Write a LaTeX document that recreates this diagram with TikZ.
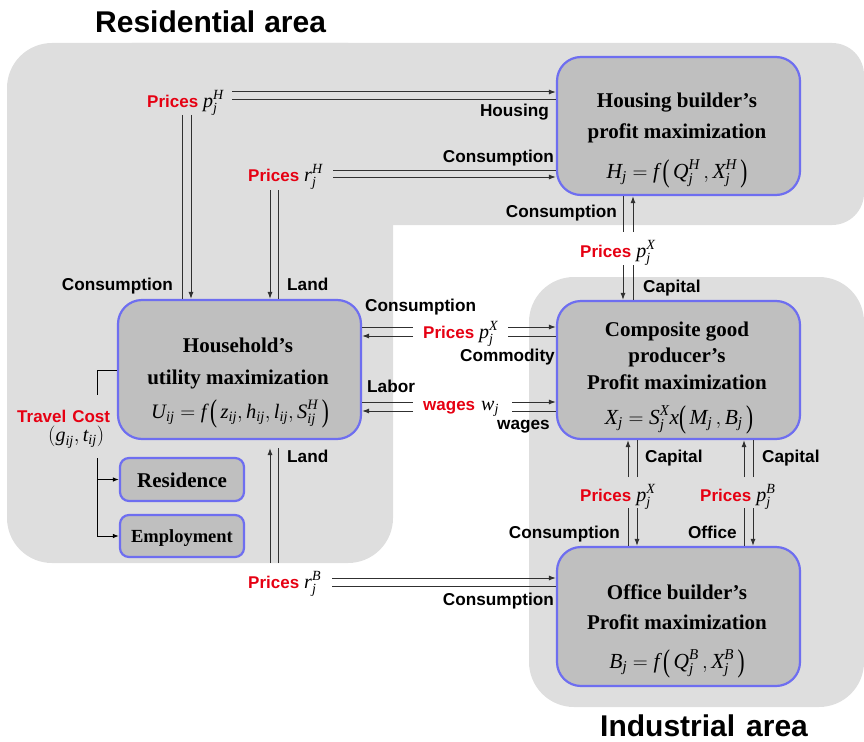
\documentclass[tikz,border=0pt]{standalone}
\usepackage{fontspec}
\usepackage{amsmath}
\usepackage{graphicx}
\setmainfont{Liberation Serif}
\setsansfont{Liberation Sans}
\usetikzlibrary{arrows.meta,calc}
\definecolor{regiongray}{HTML}{DEDEDE}
\definecolor{boxgray}{HTML}{BFBFBF}
\definecolor{boxblue}{HTML}{6E6EF0}
\definecolor{pricered}{HTML}{E60012}
\definecolor{linecol}{HTML}{303030}
\newcommand\myit[1]{\textit{#1}}
\newcommand\price[1]{{\sffamily\bfseries\fontsize{17}{17}\selectfont\color{pricered}#1}}
\newcommand\lpar{\mbox{\raisebox{-3.5pt}{\scalebox{1}[1.5]{\fontsize{21}{21}\selectfont(}}}\,}
\newcommand\rpar{\,\mbox{\raisebox{-3.5pt}{\scalebox{1}[1.5]{\fontsize{21}{21}\selectfont)}}}}
\tikzset{
  box/.style={draw=boxblue, line width=2.2pt, fill=boxgray, rounded corners=24pt, inner sep=0pt},
  smallbox/.style={draw=boxblue, line width=2.2pt, fill=boxgray, rounded corners=9pt, inner sep=0pt},
  btxt/.style={font=\fontsize{21}{21}\selectfont\bfseries, inner sep=0pt, anchor=base},
  ftxt/.style={font=\fontsize{21.5}{21.5}\selectfont, inner sep=0pt, anchor=base},
  lbl/.style={font=\sffamily\bfseries\fontsize{17.2}{17.2}\selectfont, inner sep=0pt},
  plbl/.style={font=\fontsize{20}{20}\selectfont, inner sep=0pt, anchor=base west},
  conn/.style={draw=linecol, line width=1pt},
  arr/.style={conn, -{Latex[length=7pt,width=5pt]}},
  tarr/.style={draw=black, line width=0.9pt, -{Latex[length=6pt,width=4.5pt]}},
  titletxt/.style={font=\sffamily\bfseries\fontsize{30}{30}\selectfont, inner sep=0pt, anchor=base west},
}
\begin{document}
\begin{tikzpicture}[x=1pt,y=-1pt]
\useasboundingbox (0,0) rectangle (864,741);
% regions
\fill[regiongray, rounded corners=45pt] (7,43) rectangle (393,563);
\fill[regiongray, rounded corners=32pt] (100,43) rectangle (864,225);
\fill[regiongray, rounded corners=45pt] (529,277) rectangle (864,707);
% titles
\node[titletxt] (rtitle) at (95,33) {Residential\hspace{9pt}area};
\node[titletxt] (ititle) at (600,736) {Industrial\hspace{11pt}area};
% boxes
\node[box, minimum width=243pt, minimum height=138pt] (hb) at (678.5,126) {};
\node[box, minimum width=243pt, minimum height=139pt] (hh) at (239.5,369.5) {};
\node[box, minimum width=243pt, minimum height=138pt] (cg) at (678.5,370) {};
\node[box, minimum width=243pt, minimum height=139pt] (ofb) at (678.5,616.5) {};
\node[smallbox, minimum width=124pt, minimum height=43pt] (res) at (182,479.5) {};
\node[smallbox, minimum width=124pt, minimum height=42pt] (emp) at (182,536) {};
% box texts
\node[btxt] (hbt1) at (677,107) {Housing builder’s};
\node[btxt] (hbt2) at (677,139) {profit maximization};
\node[ftxt] (hbt3) at (677,178) {$\myit{H}_{\myit{j}} = \myit{f}\,\lpar\myit{Q}_{\myit{j}}^{\myit{H}}\,, \myit{X}_{\myit{j}}^{\myit{H}}\rpar$};
\node[btxt] (hht1) at (238,352) {Household’s};
\node[btxt] (hht2) at (238,384) {utility maximization};
\node[ftxt, font=\fontsize{20.5}{20.5}\selectfont] (hht3) at (240,418) {$\myit{U}_{\myit{ij}} = \myit{f}\,\lpar\myit{z}_{\myit{ij}}, \myit{h}_{\myit{ij}}, \myit{l}_{\myit{ij}}, \myit{S}_{\myit{ij}}^{\myit{H}}\rpar$};
\node[btxt] (cgt1) at (677,336) {Composite good};
\node[btxt] (cgt2) at (677,362) {producer’s};
\node[btxt] (cgt3) at (677,389) {Profit maximization};
\node[ftxt] (cgt4) at (679,424) {$\myit{X}_{\myit{j}} = \myit{S}_{\myit{j}}^{\myit{X}}\myit{x}\lpar\myit{M}_{\myit{j}}\,, \myit{B}_{\myit{j}}\rpar$};
\node[btxt] (oft1) at (677,599) {Office builder’s};
\node[btxt] (oft2) at (677,629) {Profit maximization};
\node[ftxt] (oft3) at (677,668) {$\myit{B}_{\myit{j}} = \myit{f}\,\lpar\myit{Q}_{\myit{j}}^{\myit{B}}\,, \myit{X}_{\myit{j}}^{\myit{B}}\rpar$};
\node[btxt] (rest) at (182,487) {Residence};
\node[btxt, font=\fontsize{18.5}{18.5}\selectfont\bfseries] (empt) at (182,542) {Employment};
% price labels
\node[plbl] (pH) at (147,107) {\price{Prices} $\myit{p}_{\myit{j}}^{\myit{H}}$};
\node[plbl] (rH) at (248,181) {\price{Prices} $\myit{r}_{\myit{j}}^{\myit{H}}$};
\node[plbl] (pX1) at (580,257) {\price{Prices} $\myit{p}_{\myit{j}}^{\myit{X}}$};
\node[plbl] (pX2) at (423,338) {\price{Prices} $\myit{p}_{\myit{j}}^{\myit{X}}$};
\node[plbl] (wj) at (423,410) {\price{wages}\hspace{6pt}$\myit{w}_{\myit{j}}$};
\node[plbl] (pX3) at (580,501) {\price{Prices} $\myit{p}_{\myit{j}}^{\myit{X}}$};
\node[plbl] (pB) at (700,501) {\price{Prices} $\myit{p}_{\myit{j}}^{\myit{B}}$};
\node[plbl] (rB) at (248,588) {\price{Prices} $\myit{r}_{\myit{j}}^{\myit{B}}$};
\node[plbl] (tc) at (17,422) {\price{Travel\hspace{6pt}Cost}};
\node[plbl] (gt) at (48,441) {$(\myit{g}_{\myit{ij}}, \myit{t}_{\myit{ij}})$};
% black labels
\node[lbl, anchor=base east] (lHousing) at (549,117) {Housing};
\node[lbl, anchor=base east] (lCons1) at (554,162) {Consumption};
\node[lbl, anchor=base east] (lCons2) at (173,290) {Consumption};
\node[lbl, anchor=base west] (lLand1) at (287,290) {Land};
\node[lbl, anchor=base east] (lCons3) at (617,217) {Consumption};
\node[lbl, anchor=base west] (lCap1) at (643,292) {Capital};
\node[lbl, anchor=base west] (lCons4) at (365,311) {Consumption};
\node[lbl, anchor=base east] (lComm) at (555,361) {Commodity};
\node[lbl, anchor=base west] (lLabor) at (367,392) {Labor};
\node[lbl, anchor=base east] (lwages) at (550,429) {wages};
\node[lbl, anchor=base west] (lCap2) at (645,462) {Capital};
\node[lbl, anchor=base west] (lCap3) at (762,462) {Capital};
\node[lbl, anchor=base east] (lCons5) at (620,538) {Consumption};
\node[lbl, anchor=base east] (lOffice) at (737,538) {Office};
\node[lbl, anchor=base east] (lCons6) at (554,605) {Consumption};
\node[lbl, anchor=base west] (lLand2) at (287,462) {Land};
% connectors: p^H
\coordinate (pHa) at (232,92); \coordinate (pHb) at (232,100);
\draw[arr] (pHa) -- (pHa -| hb.west);
\draw[conn] (pHb) -- (pHb -| hb.west);
\coordinate (pHc) at (182,115); \coordinate (pHd) at (191,115);
\draw[conn] (pHc) -- (pHc |- hh.north);
\draw[arr] (pHd) -- (pHd |- hh.north);
% r^H
\coordinate (rHa) at (333,170); \coordinate (rHb) at (333,177);
\draw[conn] (rHa) -- (rHa -| hb.west);
\draw[arr] (rHb) -- (rHb -| hb.west);
\coordinate (rHc) at (270,190); \coordinate (rHd) at (278,190);
\draw[arr] (rHc) -- (rHc |- hh.north);
\draw[conn] (rHd) -- (rHd |- hh.north);
% housing - composite
\coordinate (xa) at (623,232); \coordinate (xb) at (633,232);
\draw[conn] (hb.south -| xa) -- (xa);
\draw[arr] (xb) -- (hb.south -| xb);
\coordinate (xc) at (623,265); \coordinate (xd) at (633,265);
\draw[arr] (xc) -- (xc |- cg.north);
\draw[conn] (xd) -- (xd |- cg.north);
% household - composite (consumption)
\coordinate (ma) at (413,327); \coordinate (mb) at (413,336);
\draw[conn] (hh.east |- ma) -- (ma);
\draw[arr] (mb) -- (hh.east |- mb);
\coordinate (mc) at (508,327); \coordinate (md) at (508,336);
\draw[arr] (mc) -- (mc -| cg.west);
\draw[conn] (md) -- (md -| cg.west);
% labor
\coordinate (la) at (413,402); \coordinate (lb) at (413,411);
\draw[conn] (hh.east |- la) -- (la);
\draw[arr] (lb) -- (hh.east |- lb);
\coordinate (lc) at (512,402); \coordinate (ld) at (512,411);
\draw[arr] (lc) -- (lc -| cg.west);
\draw[conn] (ld) -- (ld -| cg.west);
% composite - office
\coordinate (ca) at (628,477); \coordinate (cb) at (637,477);
\coordinate (cc) at (744,477); \coordinate (cd) at (753,477);
\draw[arr] (ca) -- (ca |- cg.south);
\draw[conn] (cb) -- (cb |- cg.south);
\draw[arr] (cc) -- (cc |- cg.south);
\draw[conn] (cd) -- (cd |- cg.south);
\coordinate (oa) at (628,508); \coordinate (obb) at (637,508);
\coordinate (oc) at (744,508); \coordinate (od) at (753,508);
\draw[conn] (oa) -- (oa |- ofb.north);
\draw[arr] (obb) -- (obb |- ofb.north);
\draw[conn] (oc) -- (oc |- ofb.north);
\draw[arr] (od) -- (od |- ofb.north);
% r^B
\coordinate (rBa) at (332,578); \coordinate (rBb) at (332,586);
\draw[arr] (rBa) -- (rBa -| ofb.west);
\draw[conn] (rBb) -- (rBb -| ofb.west);
\coordinate (rBc) at (270,563); \coordinate (rBd) at (278,563);
\draw[arr, shorten >=8pt] (rBc) -- (rBc |- hh.south);
\draw[conn, shorten >=8pt] (rBd) -- (rBd |- hh.south);
% travel cost
\coordinate (t0) at (97,370); \coordinate (t1) at (97,395); \coordinate (t2) at (97,458);
\draw[draw=black, line width=0.9pt] (hh.west |- t0) -- (t0) -- (t1);
\draw[tarr] (t2) |- (emp.west);
\draw[tarr] (t2 |- res.west) -- (res.west);
\end{tikzpicture}
\end{document}
